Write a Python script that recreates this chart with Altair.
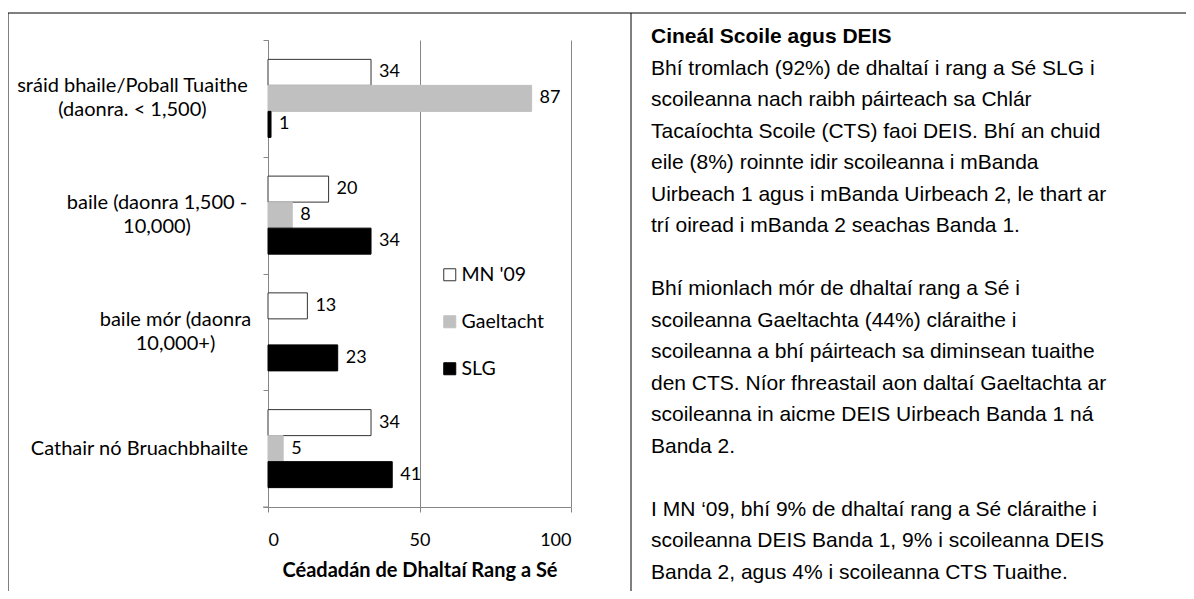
import altair as alt
import pandas as pd

# ---------------- data ----------------
categories = [
    "sráid bhaile/Poball Tuaithe\n(daonra. < 1,500)",
    "baile (daonra 1,500  -\n10,000)",
    "baile mór (daonra\n10,000+)",
    "Cathair nó Bruachbhailte",
]
series = ["MN '09", "Gaeltacht", "SLG"]
mn_09 = [34, 20, 13, 34]
gaeltacht = [87, 8, None, 5]
slg = [1, 34, 23, 41]
x_ticks = [0, 50, 100]
x_title = "Céadadán de Dhaltaí Rang a Sé"

panel_heading = "Cineál Scoile agus DEIS"
panel_lines = [
    "Bhí tromlach (92%) de dhaltaí i rang a Sé SLG i",
    "scoileanna nach raibh páirteach sa Chlár",
    "Tacaíochta Scoile (CTS) faoi DEIS. Bhí an chuid",
    "eile (8%) roinnte idir scoileanna i mBanda",
    "Uirbeach 1 agus i mBanda Uirbeach 2, le thart ar",
    "trí oiread i mBanda 2 seachas Banda 1.",
    "",
    "Bhí mionlach mór de dhaltaí rang a Sé i",
    "scoileanna Gaeltachta (44%) cláraithe i",
    "scoileanna a bhí páirteach sa diminsean tuaithe",
    "den CTS. Níor fhreastail aon daltaí Gaeltachta ar",
    "scoileanna in aicme DEIS Uirbeach Banda 1 ná",
    "Banda 2.",
    "",
    "I MN ‘09, bhí 9% de dhaltaí rang a Sé cláraithe i",
    "scoileanna DEIS Banda 1, 9% i scoileanna DEIS",
    "Banda 2, agus 4% i scoileanna CTS Tuaithe.",
]

rows = []
for i, cat in enumerate(categories):
    for s, vals in zip(series, [mn_09, gaeltacht, slg]):
        if vals[i] is not None:
            rows.append({"category": cat, "series": s, "value": vals[i]})
df = pd.DataFrame(rows)
cat_df = pd.DataFrame({"category": categories})
panel_df = pd.DataFrame({"line": [panel_heading] + panel_lines,
                         "i": list(range(len(panel_lines) + 1))})
one = pd.DataFrame({"k": [0]})

# ---------------- layout ----------------
W, H = 303, 467
GRAY = "#868686"
FONT = "Lato"

leg = alt.Legend(
    title=None, orient="none", legendX=172, legendY=225,
    symbolType="square", symbolSize=144, symbolStrokeWidth=1,
    labelFont=FONT, labelFontSize=19.5, labelColor="#000",
    labelOffset=2, rowPadding=26,
)

y_enc = alt.Y("category:N", sort=categories,
              scale=alt.Scale(paddingInner=0, paddingOuter=0),
              axis=alt.Axis(labels=False, title=None, tickBand="extent",
                            domainColor=GRAY, tickColor=GRAY, tickSize=5,
                            grid=False))
yoff = alt.YOffset("series:N", sort=series,
                   scale=alt.Scale(paddingInner=0, paddingOuter=0.745))

bars = alt.Chart(df).mark_bar(strokeWidth=1).encode(
    x=alt.X("value:Q", scale=alt.Scale(domain=[0, 100], nice=False),
            axis=alt.Axis(values=x_ticks, grid=True, gridColor=GRAY,
                          domainColor=GRAY, tickColor=GRAY, tickSize=5,
                          labelFont=FONT, labelFontSize=18, labelColor="#000",
                          labelPadding=19, title=x_title, titleFont=FONT,
                          titleFontSize=20, titleFontWeight="bold",
                          titleColor="#000", titlePadding=11)),
    y=y_enc,
    yOffset=yoff,
    fill=alt.Fill("series:N", sort=series,
                  scale=alt.Scale(domain=series,
                                  range=["#ffffff", "#c0c0c0", "#000000"]),
                  legend=leg),
    stroke=alt.Stroke("series:N", sort=series,
                      scale=alt.Scale(domain=series,
                                      range=["#333333", "#c0c0c0", "#000000"]),
                      legend=leg),
)

values = alt.Chart(df).mark_text(
    align="left", baseline="middle", dx=8, font=FONT, fontSize=18, color="#000"
).encode(
    x="value:Q",
    y=alt.Y("category:N", sort=categories),
    yOffset=alt.YOffset("series:N", sort=series),
    text="value:Q",
)

# multi-line category labels: block right-aligned, lines centred in the block
narrow = "regexp('[iílrt ,.()/-]', 'g')"
cat_multi = alt.Chart(cat_df).transform_filter(
    "indexof(datum.category, '\\n') >= 0"
).transform_calculate(
    l0="split(datum.category, '\\n')[0]",
    l1="split(datum.category, '\\n')[1]",
    w0=f"11 * length(datum.l0) - 6 * (length(datum.l0) - length(replace(datum.l0, {narrow}, '')))",
    w1=f"11 * length(datum.l1) - 6 * (length(datum.l1) - length(replace(datum.l1, {narrow}, '')))",
    cx="-20 - max(datum.w0, datum.w1) / 2",
).mark_text(
    align="center", baseline="middle", font=FONT, fontSize=20,
    lineHeight=24, lineBreak="\n", dy=-12, color="#000"
).encode(
    x=alt.X("cx:Q", scale=None, axis=None),
    y=alt.Y("category:N", sort=categories),
    text="category:N",
)

cat_single = alt.Chart(cat_df).transform_filter(
    "indexof(datum.category, '\\n') < 0"
).mark_text(
    align="right", baseline="middle", font=FONT, fontSize=20, color="#000"
).encode(
    x=alt.value(-20),
    y=alt.Y("category:N", sort=categories),
    text="category:N",
)

panel_head = alt.Chart(panel_df).transform_filter("datum.i == 0").transform_calculate(
    py="-3 + datum.i * 31.5"
).mark_text(
    align="left", baseline="middle", font="Liberation Sans", fontSize=21,
    fontWeight="bold", color="#000"
).encode(
    x=alt.value(383),
    y=alt.Y("py:Q", scale=None, axis=None),
    text="line:N",
)

panel_body = alt.Chart(panel_df).transform_filter("datum.i > 0").transform_calculate(
    py="-3 + datum.i * 31.5"
).mark_text(
    align="left", baseline="middle", font="Liberation Sans", fontSize=21,
    color="#000"
).encode(
    x=alt.value(383),
    y=alt.Y("py:Q", scale=None, axis=None),
    text="line:N",
)

frame_top = alt.Chart(one).mark_rule(color="#000", strokeWidth=1).encode(
    x=alt.value(-260), x2=alt.value(920), y=alt.value(-27))
frame_left = alt.Chart(one).mark_rule(color="#000", strokeWidth=1).encode(
    x=alt.value(-260), y=alt.value(-27), y2=alt.value(560))
frame_mid = alt.Chart(one).mark_rule(color="#000", strokeWidth=1).encode(
    x=alt.value(363), y=alt.value(-27), y2=alt.value(560))
bottom_tick = alt.Chart(one).mark_rule(color=GRAY, strokeWidth=1).encode(
    x=alt.value(-5), x2=alt.value(0), y=alt.value(H))

chart = alt.layer(
    frame_top, frame_left, frame_mid, bars, values, cat_multi, cat_single,
    bottom_tick, panel_head, panel_body
).resolve_scale(fill="shared", stroke="shared").properties(
    width=W, height=H,
    padding={"left": 260, "top": 32, "right": 615, "bottom": 84},
    autosize=alt.AutoSizeParams(type="none"),
    background="#ffffff",
).configure_view(stroke=None)

chart.save("out.html", embed_options={"renderer": "svg", "actions": False})
